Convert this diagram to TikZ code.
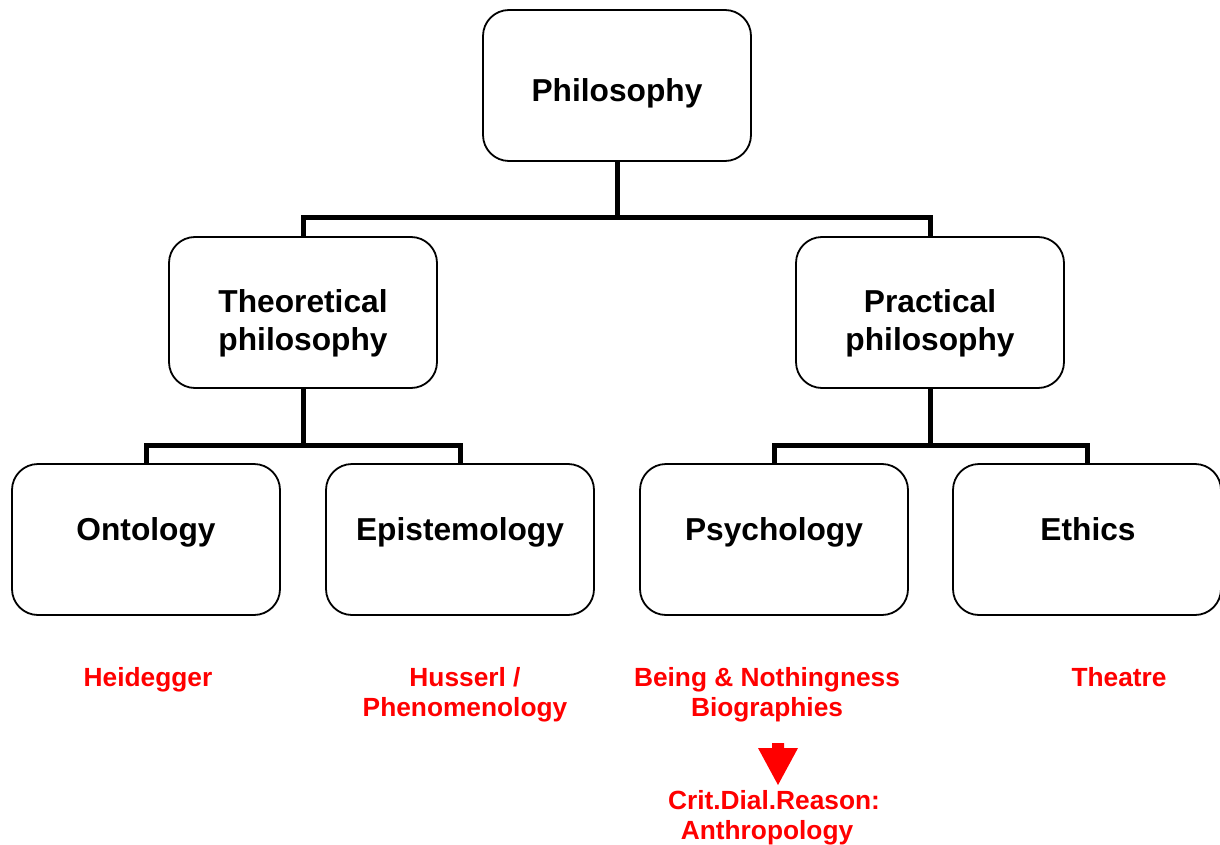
\documentclass[tikz,border=0pt]{standalone}
\usepackage{fontspec}
\setmainfont{Liberation Sans}
\definecolor{redtxt}{RGB}{255,0,0}
\begin{document}
\begin{tikzpicture}[x=1pt,y=-1pt,
  box/.style={draw=black,line width=1.8pt,rounded corners=26pt,minimum width=268pt,minimum height=151pt,inner sep=0pt,fill=white},
  btxt/.style={anchor=base,inner sep=0pt,font=\fontsize{31.7}{38}\selectfont\bfseries},
  rtxt/.style={anchor=base,inner sep=0pt,text=redtxt,font=\fontsize{26.3}{30}\selectfont\bfseries},
  conn/.style={line width=5pt,line join=miter}]
\useasboundingbox (0,0) rectangle (1220,845);
% boxes
\node[box] (phil) at (617,85.5) {};
\node[box] (theo) at (303,312.5) {};
\node[box] (prac) at (930,312.5) {};
\node[box] (onto) at (146,539.5) {};
\node[box] (epis) at (460,539.5) {};
\node[box] (psyc) at (774,539.5) {};
\node[box] (ethi) at (1087,539.5) {};
% connectors
\draw[conn] (phil.south) -- ++(0,56) coordinate (b1) -| (theo.north);
\draw[conn] (b1) -| (prac.north);
\draw[conn] (theo.south) -- ++(0,57) coordinate (b2) -| (onto.north);
\draw[conn] (b2) -| (epis.north);
\draw[conn] (prac.south) -- ++(0,57) coordinate (b3) -| (psyc.north);
\draw[conn] (b3) -| (ethi.north);
% box texts
\node[btxt] (tphil) at (617,102) {Philosophy};
\node[btxt] (ttheo1) at (303,312) {Theoretical};
\node[btxt] (ttheo2) at (303,350) {philosophy};
\node[btxt] (tprac1) at (930,312) {Practical};
\node[btxt] (tprac2) at (930,350) {philosophy};
\node[btxt] (tonto) at (146,540) {Ontology};
\node[btxt] (tepis) at (460,540) {Epistemology};
\node[btxt] (tpsyc) at (774,540) {Psychology};
\node[btxt] (tethi) at (1088,540) {Ethics};
% red texts
\node[rtxt] (heid) at (148,686) {Heidegger};
\node[rtxt] (huss1) at (465,686) {Husserl /};
\node[rtxt] (huss2) at (465,716) {Phenomenology};
\node[rtxt] (being1) at (767,686) {Being \& Nothingness};
\node[rtxt] (being2) at (767,716) {Biographies};
\node[rtxt] (thea) at (1119,686) {Theatre};
\node[rtxt] (crit1) at (774,809) {Crit.Dial.Reason:};
\node[rtxt] (crit2) at (767,839) {Anthropology};
% block arrow
\fill[redtxt] (772,743) -- (784,743) -- (784,748) -- (798,748) -- (778,785) -- (758,748) -- (772,748) -- cycle;
\end{tikzpicture}
\end{document}
